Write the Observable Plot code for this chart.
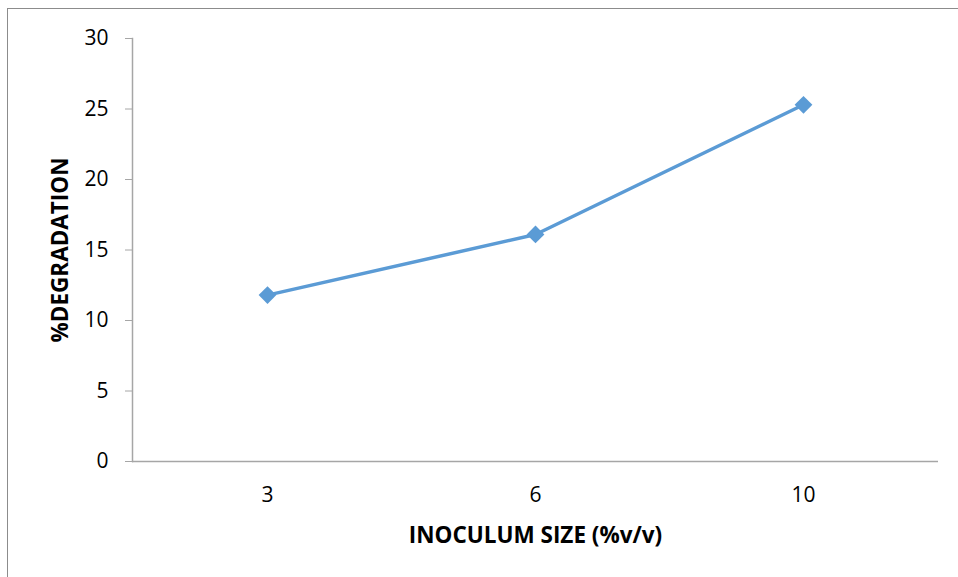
<!DOCTYPE html>
<html>
<head>
<meta charset="utf-8">
<script src="https://cdn.jsdelivr.net/npm/d3@7"></script>
<script src="https://cdn.jsdelivr.net/npm/@observablehq/plot@0.6"></script>
<style>
  html, body { margin: 0; padding: 0; background: #fff; overflow: hidden; width: 958px; height: 577px; }
  #wrap { position: relative; width: 958px; height: 577px; }
  #border { position: absolute; left: 7px; top: 8px; width: 1200px; height: 1200px;
            border-left: 1.5px solid #8c8c8c; border-top: 1.5px solid #8c8c8c; box-sizing: border-box; }
  #chart { position: absolute; left: 0; top: 0; }
</style>
</head>
<body>
<div id="wrap"><div id="border"></div><div id="chart"></div></div>
<script>
const inoculumSize = ["3", "6", "10"];
const degradation = [11.8, 16.1, 25.3];
const yTicks = [0, 5, 10, 15, 20, 25, 30];
const xTitle = "INOCULUM SIZE (%v/v)";
const yTitle = "%DEGRADATION";

const data = inoculumSize.map((s, i) => ({size: s, value: degradation[i]}));
const font = "Open Sans, sans-serif";

const chart = Plot.plot({
  width: 958,
  height: 577,
  marginLeft: 132,
  marginRight: 20,
  marginTop: 38,
  marginBottom: 116,
  style: {fontFamily: font, fontSize: "21px", color: "#000", background: "transparent"},
  x: {type: "point", domain: inoculumSize, padding: 0.5},
  y: {domain: [0, 30]},
  marks: [
    Plot.frame({anchor: "left", stroke: "#a6a6a6", strokeWidth: 1.5}),
    Plot.axisY({ticks: yTicks, tickSize: 7, tickPadding: 17, stroke: "#a6a6a6",
      label: null, fontSize: 21, fill: "#000"}),
    Plot.axisX({tickSize: 0, tickPadding: 26, label: null, fontSize: 21, fill: "#000"}),
    Plot.ruleY([0], {stroke: "#a6a6a6", strokeWidth: 1.5}),
    Plot.text([xTitle], {frameAnchor: "bottom", dy: 81, fontWeight: "bold", fontSize: 22.5, fill: "#000"}),
    Plot.text([yTitle], {frameAnchor: "left", textAnchor: "middle", dx: -72, rotate: -90, fontWeight: "bold", fontSize: 22.5, fill: "#000"}),
    Plot.line(data, {x: "size", y: "value", stroke: "#5b9bd5", strokeWidth: 3.5}),
    Plot.dot(data, {x: "size", y: "value", symbol: "diamond2", r: 8, fill: "#5b9bd5", stroke: "none"})
  ]
});
document.getElementById("chart").appendChild(chart);
</script>
</body>
</html>
